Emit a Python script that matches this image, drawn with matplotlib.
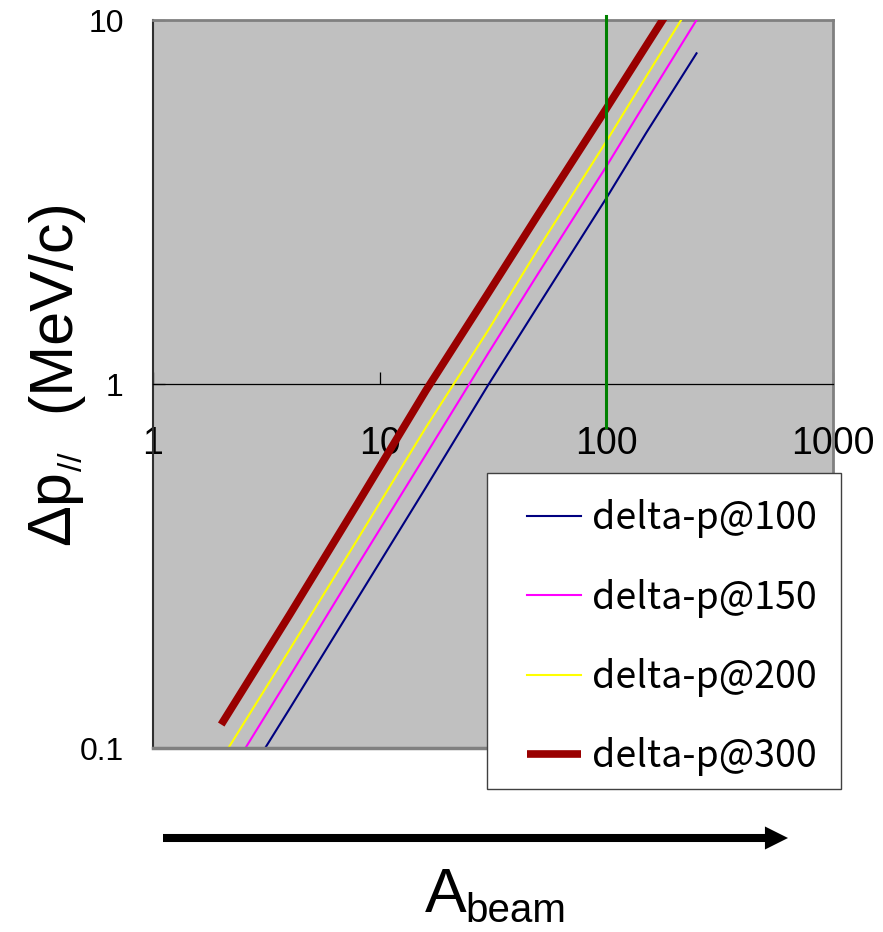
import matplotlib
matplotlib.use("Agg")
import matplotlib.pyplot as plt
from matplotlib.patches import Rectangle, ArrowStyle
from matplotlib.font_manager import FontProperties

plt.rcParams['font.family'] = ['Liberation Sans', 'DejaVu Sans']

# ---------------- data ----------------
A_beam = [2, 4, 8, 16, 30, 50, 100, 150, 250]
dp100 = [0.064, 0.128, 0.258, 0.52, 0.99, 1.64, 3.24, 4.9, 8.1]
dp150 = [0.078, 0.157, 0.318, 0.64, 1.21, 2.01, 3.96, 5.98, 10.0]
dp200 = [0.093, 0.186, 0.375, 0.76, 1.40, 2.35, 4.64, 7.0, 11.7]
dp300 = [0.116, 0.232, 0.47, 0.96, 1.77, 2.92, 5.71, 8.5, 14.0]
dp_hidden = [0.119, 0.238, 0.482, 0.984, 1.81, 2.99, 5.85, 8.7, 14.3]
marker_x = [100, 100]
marker_y = [0.76, 10.26]

series_labels = ['delta-p@100', 'delta-p@150', 'delta-p@200', 'delta-p@300']
x_ticks = [1, 10, 100, 1000]
x_ticklabels = ['1', '10', '100', '1000']
y_ticks = [0.1, 1, 10]
y_ticklabels = ['0.1', '1', '10']

W, H = 883, 932
fig = plt.figure(figsize=(W / 100, H / 100), dpi=100)

def fx(px):
    return px / W

def fy(py):
    return 1 - py / H

ax = fig.add_axes([fx(153), fy(748), fx(833) - fx(153), fy(20) - fy(748)])
ax.set_facecolor('#C0C0C0')
ax.set_xscale('log')
ax.set_yscale('log')
ax.set_xlim(1, 1000)
ax.set_ylim(0.1, 10)

ax.plot(A_beam, dp_hidden, color='#00FFFF', lw=1.0, zorder=2)
l1, = ax.plot(A_beam, dp100, color='#000080', lw=1.5, zorder=3)
l2, = ax.plot(A_beam, dp150, color='#FF00FF', lw=1.5, zorder=3)
l3, = ax.plot(A_beam, dp200, color='#FFFF00', lw=1.5, zorder=3)
l4, = ax.plot(A_beam, dp300, color='#990000', lw=5.5, zorder=4,
              solid_capstyle='butt')
ax.plot(marker_x, marker_y, color='#008000', lw=2.2, zorder=5, clip_on=False)

# axes styling
ax.set_xticks(x_ticks, x_ticklabels)
ax.set_yticks(y_ticks, y_ticklabels)
ax.minorticks_off()
ax.spines['bottom'].set_position(('data', 1))
ax.spines['bottom'].set_color('black')
ax.spines['bottom'].set_linewidth(0.9)
ax.spines['left'].set_color('#303030')
ax.spines['left'].set_linewidth(1.5)
for s in ('top', 'right'):
    ax.spines[s].set_color('#808080')
    ax.spines[s].set_linewidth(2)
ax.plot([0, 1], [0, 0], transform=ax.transAxes, color='#808080', lw=2.5,
        clip_on=False, zorder=6)

ax.tick_params(axis='x', direction='in', length=8.6, width=0.9, color='black',
               pad=30, labelsize=27)
ax.tick_params(axis='y', direction='in', length=8.6, width=0.9, color='black',
               pad=21, labelsize=23)
for lab in ax.get_xticklabels():
    lab.set_family(['Liberation Sans Narrow', 'Liberation Sans'])

# legend box
rect = Rectangle((fx(487), fy(789)), fx(841) - fx(487), fy(473) - fy(789),
                 transform=fig.transFigure, facecolor='white',
                 edgecolor='#404040', lw=1.0, zorder=4)
fig.add_artist(rect)
leg = fig.legend([l1, l2, l3, l4], series_labels, loc='upper left',
                 bbox_to_anchor=(fx(527), fy(499)), bbox_transform=fig.transFigure,
                 frameon=False, borderpad=0, borderaxespad=0,
                 handlelength=1.45, handletextpad=0.29, labelspacing=1.08,
                 prop=FontProperties(family=['Noto Sans CJK JP', 'DejaVu Sans'], size=27))
leg.set_zorder(5)

# y label pieces
fig.text(fx(69), fy(545), 'Δp', rotation=90, rotation_mode='anchor',
         ha='left', va='baseline', fontsize=44)
fig.text(fx(82), fy(471), '//', rotation=90, rotation_mode='anchor',
         ha='left', va='baseline', fontsize=24)
fig.text(fx(69), fy(412), '(MeV/c)', rotation=90, rotation_mode='anchor',
         ha='left', va='baseline', fontsize=44)

# x label pieces
fig.text(fx(425), fy(912), 'A', ha='left', va='baseline', fontsize=45)
fig.text(fx(465), fy(922), 'beam', ha='left', va='baseline', fontsize=29)

# arrow
ax.annotate('', xy=(fx(788), fy(838)), xytext=(fx(163), fy(838)),
            xycoords='figure fraction', textcoords='figure fraction',
            arrowprops=dict(arrowstyle=ArrowStyle('simple', head_length=1.66,
                                                  head_width=1.66, tail_width=0.58),
                            mutation_scale=10, color='black', lw=0,
                            shrinkA=0, shrinkB=0))

fig.savefig('out.png', dpi=100)
